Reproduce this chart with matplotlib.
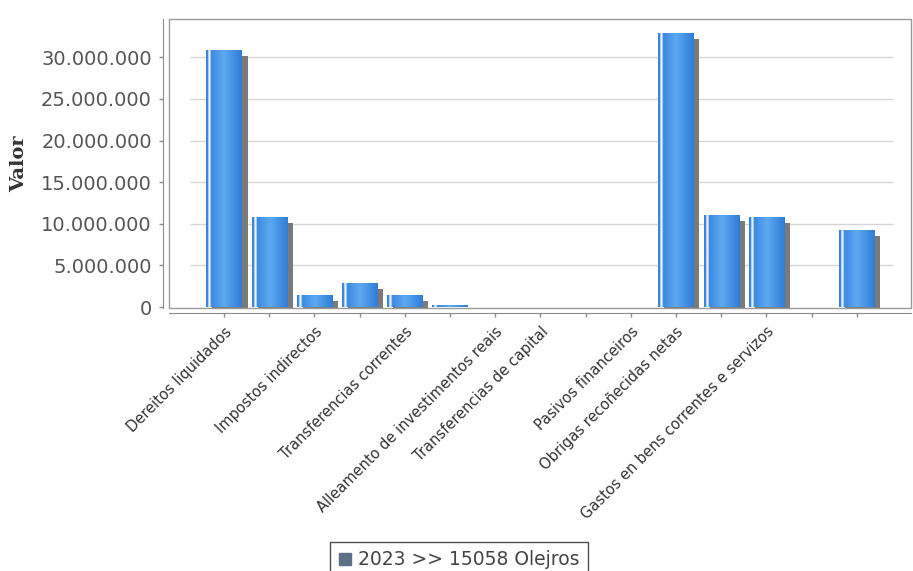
# -*- coding: utf-8 -*-
"""
Municipal budget 2023 (Olejros) as a JFreeChart-like bar chart.
"""

import matplotlib
matplotlib.use("Agg")
import matplotlib.pyplot as plt
import matplotlib.transforms as mtransforms
from matplotlib.colors import LinearSegmentedColormap
from matplotlib.lines import Line2D
from matplotlib.patches import Rectangle
from matplotlib.ticker import FuncFormatter
import numpy as np


CATEGORY_LABELS = [
    "Dereitos liquidados", "", "Impostos indirectos", "",
    "Transferencias correntes", "", "Alleamento de investimentos reais",
    "Transferencias de capital", "", "Pasivos financeiros",
    "Obrigas recoñecidas netas", "", "Gastos en bens correntes e servizos",
    "", "",
]
VALUES_2023 = [
    30.9e6, 10.85e6, 1.5e6, 2.9e6, 1.45e6, 0.3e6, 0, 0, 0, 0,
    32.9e6, 11.1e6, 10.8e6, 0, 9.25e6,
]
Y_TICKS = [0, 5e6, 10e6, 15e6, 20e6, 25e6, 30e6]
SERIES_NAME = "2023 >> 15058 Olejros"

BAR_WIDTH = 0.775
SHADOW_PX = 6
AXIS_GRAY = "#8a8a8a"

bar_cmap = LinearSegmentedColormap.from_list("bar", [
    (0.00, "#3b82d8"), (0.05, "#3b82d8"), (0.07, "#eaf4ff"),
    (0.11, "#eaf4ff"), (0.14, "#3a89e2"), (0.50, "#5ea9f1"),
    (0.85, "#3b8ae0"), (1.00, "#327dd3"),
])

fig = plt.figure(figsize=(9.13, 5.71), dpi=100)
ax = fig.add_axes([169 / 913, 1 - 308 / 571, 742 / 913, 289 / 571])

x = np.arange(len(VALUES_2023))

# gridlines on the back wall
ax.hlines(Y_TICKS[1:], 0.028, 0.976, transform=ax.get_yaxis_transform(),
          color="#d6d6d6", linewidth=1.0, zorder=0)

# shadow
shadow_tr = mtransforms.offset_copy(ax.transData, fig=fig, x=SHADOW_PX,
                                    y=-SHADOW_PX, units="dots")
ax.bar(x, VALUES_2023, width=BAR_WIDTH, color="#7a7a7a", linewidth=0,
       transform=shadow_tr, zorder=1)

bars = ax.bar(x, VALUES_2023, width=BAR_WIDTH, color="none", linewidth=0,
              zorder=2)
gradient = np.linspace(0, 1, 200).reshape(1, -1)
for bar in bars:
    if bar.get_height() <= 0:
        continue
    x0 = bar.get_x()
    img = ax.imshow(gradient, cmap=bar_cmap, aspect="auto",
                    extent=(x0, x0 + bar.get_width(), 0, bar.get_height()),
                    zorder=2, interpolation="bilinear")
    img.set_clip_path(bar)
ax.set_xlim(-1.217, 15.2)
ax.set_ylim(-0.12e6, 34.6e6)

# axes styling
for side in ["top", "right"]:
    ax.spines[side].set_visible(False)
ax.spines["left"].set_position(("outward", 4.3))
ax.spines["bottom"].set_position(("outward", 3.6))
ax.spines["left"].set_color(AXIS_GRAY)
ax.spines["bottom"].set_color(AXIS_GRAY)
ax.add_patch(Rectangle((0, 0), 1, 1, transform=ax.transAxes, fill=False,
                       edgecolor="#9a9a9a", linewidth=1.0, clip_on=False,
                       zorder=5))

ax.set_yticks(Y_TICKS)
ax.yaxis.set_major_formatter(
    FuncFormatter(lambda v, _: f"{int(v):,}".replace(",", ".")))
ax.tick_params(axis="y", length=3, width=1, color=AXIS_GRAY,
               labelsize=14, labelcolor="#555555", pad=5)

ax.set_xticks(x)
ax.set_xticklabels(CATEGORY_LABELS, rotation=45, ha="right",
                   rotation_mode="anchor")
ax.tick_params(axis="x", length=3, width=1, color=AXIS_GRAY,
               labelsize=10.5, labelcolor="#333333", pad=5)

ax.set_ylabel("Valor", fontsize=14, fontweight="bold", family="DejaVu Serif",
              color="#333333")
ax.yaxis.set_label_coords(-0.19, 0.5)

handle = Line2D([], [], linestyle="none", marker="s", markersize=8,
                markerfacecolor="#5c7089", markeredgecolor="#5c7089")
leg = fig.legend([handle], [SERIES_NAME], loc="upper center",
                 bbox_to_anchor=(0.503, 0.051), frameon=True, fancybox=False,
                 edgecolor="#222222", fontsize=13.5, handlelength=0.7,
                 handletextpad=0.35, borderpad=0.45, borderaxespad=0,
                 labelcolor="#444444")
leg.get_frame().set_linewidth(1.0)

fig.savefig("out.png", dpi=100, facecolor="white")
